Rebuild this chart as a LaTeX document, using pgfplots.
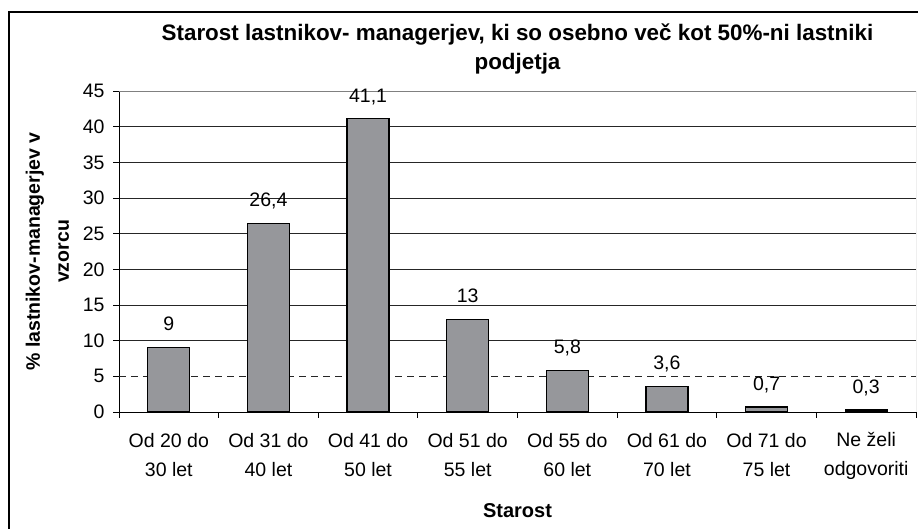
\documentclass[border=0pt]{standalone}
\usepackage{fontspec}
\setmainfont{Liberation Sans}
\usepackage{pgfplots}
\pgfplotsset{compat=1.18}
\definecolor{barfill}{RGB}{150,151,155}
\begin{document}
\begin{tikzpicture}[x=1pt,y=1pt]
\useasboundingbox (0,0) rectangle (918,529);
\draw[line width=1.2pt] (9,0) -- (9,517) -- (918,517);
\begin{axis}[at={(119pt,117pt)}, anchor=south west, scale only axis,
  width=797pt, height=321pt,
  xmin=-0.5, xmax=7.5, ymin=0, ymax=45,
  axis lines*=left,
  axis line style={black, line width=0.8pt},
  /pgf/number format/assume math mode=true,
  /pgf/number format/use comma,
  ytick={0,10,15,20,25,30,35,40,45},
  extra y ticks={5},
  extra y tick style={grid=major, major grid style={black!85, line width=0.6pt, dash pattern=on 7pt off 5pt}},
  ymajorgrids,
  major grid style={black!85, line width=0.6pt},
  xtick={-0.5,0.5,1.5,2.5,3.5,4.5,5.5,6.5,7.5},
  xticklabels={},
  extra x ticks={0,1,2,3,4,5,6,7},
  extra x tick labels={{Od 20 do\\30 let},{Od 31 do\\40 let},{Od 41 do\\50 let},{Od 51 do\\55 let},{Od 55 do\\60 let},{Od 61 do\\70 let},{Od 71 do\\75 let},{Ne želi\\odgovoriti}},
  extra x tick style={major tick length=0pt, grid=none},
  tick align=outside, major tick length=6pt,
  tick style={black, line width=0.8pt},
  xticklabel style={anchor=center, yshift=-43.5pt, align=center, font=\fontsize{19.5}{29}\selectfont},
  yticklabel style={font=\fontsize{19.5}{22}\selectfont, xshift=-5pt},
  title={Starost lastnikov- managerjev, ki so osebno več kot 50\%-ni lastniki\\podjetja},
  title style={at={(axis description cs:0.5,1)}, anchor=center, yshift=36.5pt, align=center, font=\bfseries\fontsize{22.4}{29}\selectfont},
  xlabel={Starost},
  xlabel style={at={(axis description cs:0.5,0)}, anchor=center, yshift=-99pt, font=\bfseries\fontsize{20}{22}\selectfont},
  ylabel={\% lastnikov-managerjev v\\[5pt]vzorcu},
  ylabel style={at={(axis description cs:-0.0897,0.5)}, anchor=center, align=center, font=\bfseries\fontsize{19.5}{24}\selectfont},
  nodes near coords,
  every node near coord/.append style={anchor=base, yshift=16.8pt, font=\fontsize{19.5}{22}\selectfont, black},
]
\addplot[ybar, bar width=42pt, fill=barfill, draw=black, line width=1.3pt]
  coordinates {(0,9) (1,26.4) (2,41.1) (3,13) (4,5.8) (5,3.6) (6,0.7) (7,0.3)};
\draw[gray, line width=0.8pt] (rel axis cs:0,1) -- (rel axis cs:1,1) -- (rel axis cs:1,0);
\end{axis}
\end{tikzpicture}
\end{document}
